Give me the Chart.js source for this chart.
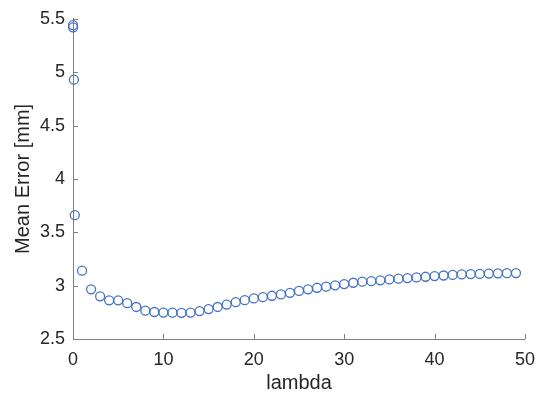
<!DOCTYPE html>
<html>
<head>
<meta charset="utf-8">
<script src="https://cdn.jsdelivr.net/npm/chart.js@4"></script>
<style>
  html, body { margin: 0; padding: 0; background: #fff; }
  #wrap { width: 545px; height: 399px; }
</style>
</head>
<body>
<div id="wrap"><canvas id="c" width="545" height="399"></canvas></div>
<script>
const lambdaValues = [0, 0.01, 0.1, 0.2,
  1, 2, 3, 4, 5, 6, 7, 8, 9, 10,
  11, 12, 13, 14, 15, 16, 17, 18, 19, 20,
  21, 22, 23, 24, 25, 26, 27, 28, 29, 30,
  31, 32, 33, 34, 35, 36, 37, 38, 39, 40,
  41, 42, 43, 44, 45, 46, 47, 48, 49];
const meanError = [5.44, 5.42, 4.93, 3.66,
  3.14, 2.965, 2.90, 2.862, 2.862, 2.836, 2.80, 2.765, 2.753, 2.748,
  2.747, 2.745, 2.748, 2.762, 2.78, 2.80, 2.823, 2.845, 2.864, 2.88,
  2.892, 2.905, 2.918, 2.933, 2.95, 2.965, 2.98, 2.99, 3.003, 3.015,
  3.027, 3.037, 3.042, 3.05, 3.058, 3.065, 3.071, 3.077, 3.083, 3.09,
  3.095, 3.10, 3.105, 3.108, 3.11, 3.113, 3.115, 3.117, 3.118];
const xTicks = [0, 10, 20, 30, 40, 50];
const yTicks = [2.5, 3, 3.5, 4, 4.5, 5, 5.5];
const xTitle = 'lambda';
const yTitle = 'Mean Error [mm]';

const FONT = "'Liberation Sans', Arial, Helvetica, sans-serif";
const AXIS_COLOR = '#808080';
const TEXT_COLOR = '#262626';
const MARK_COLOR = '#4472C4';

const points = lambdaValues.map((x, i) => ({ x: x, y: meanError[i] }));

const innerTicks = {
  id: 'innerTicks',
  afterDraw(chart) {
    const ctx = chart.ctx;
    const xs = chart.scales.x, ys = chart.scales.y;
    const a = chart.chartArea;
    const len = 5;
    ctx.save();
    ctx.strokeStyle = AXIS_COLOR;
    ctx.lineWidth = 1;
    ctx.beginPath();
    xTicks.forEach(v => {
      const px = Math.round(xs.getPixelForValue(v)) + 0.5;
      ctx.moveTo(px, a.bottom);
      ctx.lineTo(px, a.bottom - len);
    });
    yTicks.forEach(v => {
      const py = Math.round(ys.getPixelForValue(v)) + 0.5;
      ctx.moveTo(a.left, py);
      ctx.lineTo(a.left + len, py);
    });
    ctx.stroke();
    ctx.restore();
  }
};

new Chart(document.getElementById('c'), {
  type: 'scatter',
  data: {
    datasets: [{
      data: points,
      showLine: false,
      pointStyle: 'circle',
      pointRadius: 4.5,
      pointHoverRadius: 4.5,
      borderWidth: 1.3,
      borderColor: MARK_COLOR,
      backgroundColor: 'rgba(0,0,0,0)',
      clip: false
    }]
  },
  options: {
    responsive: false,
    animation: false,
    events: [],
    layout: { padding: { left: 0, right: 19, top: 16, bottom: 0 } },
    plugins: { legend: { display: false }, tooltip: { enabled: false } },
    scales: {
      x: {
        type: 'linear',
        min: 0, max: 50,
        afterBuildTicks: s => { s.ticks = xTicks.map(v => ({ value: v })); },
        afterFit: s => { s.height = 60; },
        grid: { drawOnChartArea: false, drawTicks: false },
        border: { display: true, color: AXIS_COLOR, width: 1 },
        ticks: { color: TEXT_COLOR, font: { family: FONT, size: 18 }, padding: 10, maxRotation: 0,
                 callback: v => String(v) },
        title: { display: true, text: xTitle, color: TEXT_COLOR, font: { family: FONT, size: 20 }, padding: { top: 4, bottom: 4 } }
      },
      y: {
        type: 'linear',
        min: 2.5, max: 5.5,
        afterBuildTicks: s => { s.ticks = yTicks.map(v => ({ value: v })); },
        afterFit: s => { s.width = 73; },
        grid: { drawOnChartArea: false, drawTicks: false },
        border: { display: true, color: AXIS_COLOR, width: 1 },
        ticks: { color: TEXT_COLOR, font: { family: FONT, size: 18 }, padding: 8,
                 callback: v => String(v) },
        title: { display: true, text: yTitle, color: TEXT_COLOR, font: { family: FONT, size: 20 }, padding: { top: 11, bottom: 4 } }
      }
    }
  },
  plugins: [innerTicks]
});
</script>
</body>
</html>
